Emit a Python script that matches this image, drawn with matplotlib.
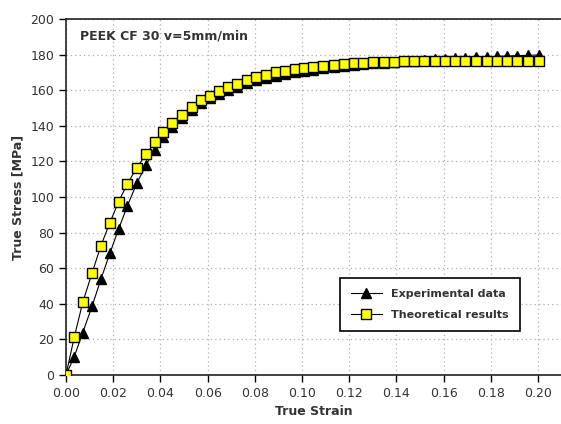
import matplotlib
matplotlib.use("Agg")
import matplotlib.pyplot as plt

# data
strain = [0.0, 0.0035, 0.0071, 0.0111, 0.0148, 0.0186, 0.0223, 0.026, 0.030, 0.0339,
          0.0377, 0.0412, 0.045, 0.0493, 0.0533, 0.0571, 0.061, 0.0648, 0.0688, 0.0726,
          0.0766, 0.0805, 0.0846, 0.0889, 0.0928, 0.097, 0.1008, 0.1048, 0.109, 0.1136,
          0.1178, 0.122, 0.126, 0.1302, 0.1347, 0.1390, 0.1432, 0.1475, 0.1517, 0.1564,
          0.1606, 0.1648, 0.1691, 0.1737, 0.1783, 0.1825, 0.1870, 0.1912, 0.1959, 0.2005]

theoretical = [0, 21.2, 40.8, 57.5, 72.6, 85.6, 97.4, 107.3, 116.5, 124.0,
               130.7, 136.3, 141.6, 146.0, 150.4, 154.5, 156.6, 159.7, 161.6, 163.5,
               166.0, 167.5, 168.8, 170.0, 171.0, 171.8, 172.5, 173.0, 173.8, 174.3,
               174.8, 175.1, 175.4, 175.8, 176.0, 176.1, 176.2, 176.3, 176.4, 176.4,
               176.5, 176.5, 176.5, 176.6, 176.6, 176.6, 176.6, 176.6, 176.6, 176.6]

experimental = [0, 10.3, 23.8, 38.8, 53.8, 68.4, 82.0, 95.0, 107.7, 118.0,
                126.4, 133.5, 139.5, 144.5, 149.0, 152.8, 155.5, 158.0, 160.0, 162.0,
                164.0, 165.5, 166.8, 168.0, 169.0, 170.0, 170.8, 171.5, 172.2, 172.8,
                173.4, 174.0, 174.5, 175.0, 175.5, 175.9, 176.3, 176.6, 177.0, 177.3,
                177.6, 177.9, 178.2, 178.5, 178.7, 179.0, 179.2, 179.4, 179.6, 179.8]

xticks = [0.00, 0.02, 0.04, 0.06, 0.08, 0.10, 0.12, 0.14, 0.16, 0.18, 0.20]
yticks = [0, 20, 40, 60, 80, 100, 120, 140, 160, 180, 200]

fig = plt.figure(figsize=(5.61, 4.24), dpi=100)
ax = fig.add_axes([0.1176, 0.1156, 0.8824, 0.8396])

ax.plot(strain, experimental, color='black', lw=0.8, marker='^', ms=7.8,
        mfc='black', mec='black', label='Experimental data', zorder=3)
ax.plot(strain, theoretical, color='black', lw=0.8, marker='s', ms=7.8,
        mfc='#ffff00', mec='black', mew=1.0, label='Theoretical results', zorder=4)

ax.set_xlim(0, 0.2097)
ax.set_ylim(0, 200)
ax.set_xticks(xticks)
ax.set_xticklabels(['%.2f' % t for t in xticks])
ax.set_yticks(yticks)
ax.tick_params(direction='out', length=5, width=1, labelsize=9, colors='black',
               labelcolor='#333333')
ax.grid(True, linestyle=(0, (1, 2.5)), color='#b0b0b0', linewidth=0.9)
ax.set_axisbelow(True)
ax.spines['right'].set_visible(False)
for s in ['left', 'bottom', 'top']:
    ax.spines[s].set_linewidth(1.2)
    ax.spines[s].set_color('#222222')

ax.set_xlabel('True Strain', fontsize=9, fontweight='bold', color='#333333')
ax.set_ylabel('True Stress [MPa]', fontsize=9, fontweight='bold', color='#333333')
ax.text(0.028, 0.97, 'PEEK CF 30 v=5mm/min', transform=ax.transAxes,
        fontsize=9, fontweight='bold', color='#333333', va='top', ha='left')

leg = ax.legend(loc='upper left', bbox_to_anchor=(0.553, 0.272),
                prop={'weight': 'bold', 'size': 8}, fancybox=False,
                edgecolor='black', framealpha=1, handlelength=2.8,
                borderpad=1.0, labelspacing=1.0, borderaxespad=0)
leg.get_frame().set_linewidth(1.2)
for t in leg.get_texts():
    t.set_color('#333333')

fig.savefig('out.png', dpi=100)
